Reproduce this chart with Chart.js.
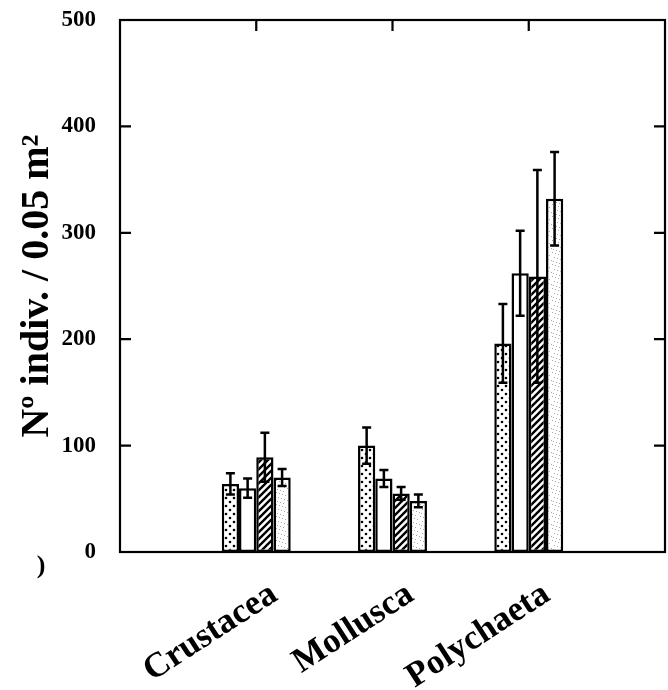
<!DOCTYPE html>
<html>
<head>
<meta charset="utf-8">
<script src="https://cdn.jsdelivr.net/npm/chart.js@4.4.1/dist/chart.umd.min.js"></script>
<style>
  html, body { margin: 0; padding: 0; background: #fff; }
  canvas { display: block; }
</style>
</head>
<body>
<canvas id="chart" width="668" height="690"></canvas>
<script>
// categories (empty slots at both ends of the axis)
const categories = ['', 'Crustacea', 'Mollusca', 'Polychaeta', ''];

// means per group (null for the empty slots)
const dotted   = [null, 64, 100, 196, null];
const plain    = [null, 60, 69, 262, null];
const hatched  = [null, 89, 55, 259, null];
const stippled = [null, 70, 48, 332, null];

// error bar half-lengths
const dottedErr   = [null, 10, 17, 37, null];
const plainErr    = [null, 9, 8, 40, null];
const hatchedErr  = [null, 23, 6, 100, null];
const stippledErr = [null, 8, 6, 44, null];

const yTicks = [0, 100, 200, 300, 400, 500];
const yTitle = 'Nº indiv. / 0.05 m²';

const serif = "'Liberation Serif', 'Times New Roman', serif";

// fill patterns
function makePattern(size, draw) {
    const c = document.createElement('canvas');
    c.width = size;
    c.height = size;
    const g = c.getContext('2d');
    g.fillStyle = '#fff';
    g.fillRect(0, 0, size, size);
    draw(g, size);
    return g.createPattern(c, 'repeat');
}

const ctx = document.getElementById('chart').getContext('2d');

const dotPattern = makePattern(8, function(g) {
    g.fillStyle = '#000';
    g.beginPath(); g.arc(2, 2, 1.3, 0, Math.PI * 2); g.fill();
    g.beginPath(); g.arc(6, 6, 1.3, 0, Math.PI * 2); g.fill();
});

const hatchPattern = makePattern(7, function(g, s) {
    g.strokeStyle = '#000';
    g.lineWidth = 2.4;
    g.beginPath();
    g.moveTo(-1, s + 1); g.lineTo(s + 1, -1);
    g.moveTo(-1, 1); g.lineTo(1, -1);
    g.moveTo(s - 1, s + 1); g.lineTo(s + 1, s - 1);
    g.stroke();
});

const stipplePattern = makePattern(12, function(g, s) {
    g.fillStyle = '#a8a8a8';
    for (let i = 0; i < s; i++) {
        for (let j = 0; j < s; j++) {
            if ((i * 7 + j * 5) % 13 === 0) g.fillRect(i, j, 1, 1);
        }
    }
});

// error bars, box, inward tick marks and slanted category names
const decorPlugin = {
    id: 'decor',
    afterDatasetsDraw(chart) {
        const c = chart.ctx;
        const y = chart.scales.y;
        const x = chart.scales.x;
        const area = chart.chartArea;

        c.save();
        c.strokeStyle = '#000';
        c.lineWidth = 2.5;
        chart.data.datasets.forEach(function(ds, di) {
            const meta = chart.getDatasetMeta(di);
            meta.data.forEach(function(bar, i) {
                const v = ds.data[i];
                const e = ds.errors[i];
                if (v == null || e == null) return;
                const top = y.getPixelForValue(v + e);
                const bot = y.getPixelForValue(v - e);
                c.beginPath();
                c.moveTo(bar.x, top); c.lineTo(bar.x, bot);
                c.moveTo(bar.x - 4.5, top); c.lineTo(bar.x + 4.5, top);
                c.moveTo(bar.x - 4.5, bot); c.lineTo(bar.x + 4.5, bot);
                c.stroke();
            });
        });

        // frame
        c.lineWidth = 2.2;
        c.strokeRect(area.left, area.top, area.right - area.left, area.bottom - area.top);

        // inward ticks
        const len = 11;
        c.beginPath();
        yTicks.forEach(function(t) {
            if (t === 0 || t === 500) return;
            const py = y.getPixelForValue(t);
            c.moveTo(area.left, py); c.lineTo(area.left + len, py);
            c.moveTo(area.right, py); c.lineTo(area.right - len, py);
        });
        categories.forEach(function(name, i) {
            if (!name) return;
            const px = x.getPixelForValue(i);
            c.moveTo(px, area.top); c.lineTo(px, area.top + len);
        });
        c.stroke();

        // category names, slanted
        c.fillStyle = '#000';
        c.font = 'bold 35px ' + serif;
        c.textAlign = 'right';
        c.textBaseline = 'alphabetic';
        categories.forEach(function(name, i) {
            if (!name) return;
            const px = x.getPixelForValue(i);
            c.save();
            c.translate(px + 23, area.bottom + 47);
            c.rotate(-33 * Math.PI / 180);
            c.fillText(name, 0, 0);
            c.restore();
        });

        // stray mark at lower left of the scan
        c.font = 'bold 26px ' + serif;
        c.textAlign = 'center';
        c.textBaseline = 'middle';
        c.fillText(')', 41, 566);
        c.restore();
    }
};

function makeSet(label, data, errors, fill) {
    return {
        label: label,
        data: data,
        errors: errors,
        backgroundColor: fill,
        borderColor: '#000',
        borderWidth: 2.5,
        borderSkipped: false,
        categoryPercentage: 0.506,
        barPercentage: 1.0
    };
}

new Chart(ctx, {
    type: 'bar',
    data: {
        labels: categories,
        datasets: [
            makeSet('a', dotted, dottedErr, dotPattern),
            makeSet('b', plain, plainErr, '#fff'),
            makeSet('c', hatched, hatchedErr, hatchPattern),
            makeSet('d', stippled, stippledErr, stipplePattern)
        ]
    },
    options: {
        responsive: false,
        animation: false,
        layout: { padding: { top: 20, right: 3, left: 0, bottom: 0 } },
        plugins: {
            legend: { display: false },
            tooltip: { enabled: false }
        },
        scales: {
            x: {
                type: 'category',
                offset: false,
                grid: { display: false },
                border: { display: false },
                ticks: { display: false },
                afterFit: function(scale) {
                    scale.height = 138;
                    scale.paddingLeft = 0;
                    scale.paddingRight = 0;
                }
            },
            y: {
                min: 0,
                max: 500,
                grid: { display: false },
                border: { display: false },
                afterBuildTicks: function(scale) {
                    scale.ticks = yTicks.map(function(v) { return { value: v }; });
                },
                ticks: {
                    padding: 16,
                    color: '#000',
                    font: { family: serif, size: 23, weight: 'bold' }
                },
                title: {
                    display: true,
                    text: yTitle,
                    color: '#000',
                    padding: { top: 14, bottom: 0 },
                    font: { family: serif, size: 40, weight: 'bold' }
                },
                afterFit: function(scale) {
                    scale.width = 120;
                    scale.paddingTop = 0;
                    scale.paddingBottom = 0;
                }
            }
        }
    },
    plugins: [decorPlugin]
});
</script>
</body>
</html>
